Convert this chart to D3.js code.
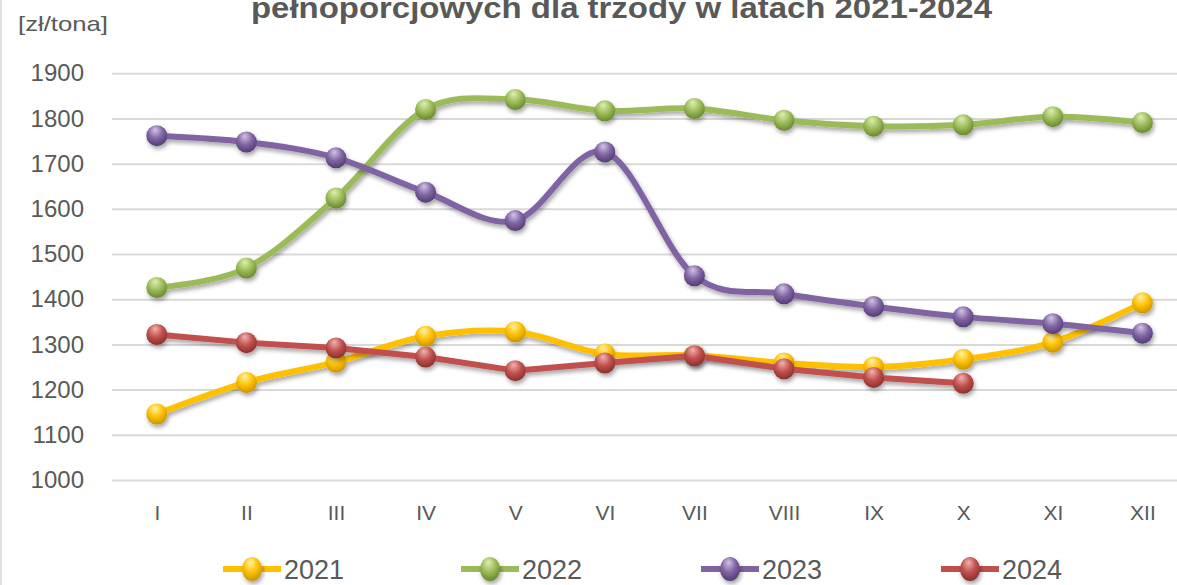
<!DOCTYPE html>
<html>
<head>
<meta charset="utf-8">
<script src="https://cdn.jsdelivr.net/npm/d3@7"></script>
<style>
  html, body { margin: 0; padding: 0; background: #fff; overflow: hidden; }
  text { font-family: "Liberation Sans", Arial, sans-serif; }
</style>
</head>
<body>
<script>
// chart size
var width = 1177;
var height = 585;

// data
var months = ['I','II','III','IV','V','VI','VII','VIII','IX','X','XI','XII'];
var yTicks = [1000,1100,1200,1300,1400,1500,1600,1700,1800,1900];
var years = ['2021','2022','2023','2024'];
var v2021 = [1146,1216,1261,1318,1328,1279,1276,1259,1250,1267,1305,1392];
var v2022 = [1426,1469,1624,1820,1842,1817,1822,1796,1783,1786,1804,1791];
var v2023 = [1762,1748,1713,1637,1574,1726,1452,1412,1384,1361,1346,1325];
var v2024 = [1322,1304,1292,1272,1242,1259,1275,1246,1227,1214];

var seriesList = [
  {name: '2021', values: v2021, color: '#FFC000', light: '#FFF4A8', dark: '#C99500', smooth: true},
  {name: '2022', values: v2022, color: '#9BBB59', light: '#DDF0B0', dark: '#6A8830', smooth: true},
  {name: '2023', values: v2023, color: '#8064A2', light: '#D2C4E6', dark: '#533D75', smooth: true},
  {name: '2024', values: v2024, color: '#C0504D', light: '#F2B2AF', dark: '#8A302E', smooth: false}
];

var svg = d3.select('body').append('svg').attr('width', width).attr('height', height);
var defs = svg.append('defs');

// soft shadow like in the office chart
var shadow = defs.append('filter').attr('id','shadow')
  .attr('x','-20%').attr('y','-20%').attr('width','140%').attr('height','160%');
shadow.append('feDropShadow')
  .attr('dx', 1.5).attr('dy', 3).attr('stdDeviation', 2)
  .attr('flood-color', '#000').attr('flood-opacity', 0.35);

// sphere gradients for markers
seriesList.forEach(function(s){
  var g = defs.append('radialGradient').attr('id', 'ball' + s.name)
    .attr('cx','45%').attr('cy','35%').attr('r','65%').attr('fx','42%').attr('fy','22%');
  g.append('stop').attr('offset','0%').attr('stop-color', s.light);
  g.append('stop').attr('offset','55%').attr('stop-color', s.color);
  g.append('stop').attr('offset','100%').attr('stop-color', s.dark);
});

var x = d3.scalePoint().domain(months).range([156.8, 1142.4]);
var y = d3.scaleLinear().domain([1000, 1900]).range([480, 73.3]);

// left border of chart area
svg.append('line').attr('x1',1).attr('x2',1).attr('y1',0).attr('y2',height)
  .attr('stroke','#d9d9d9').attr('stroke-width',1.5);

// gridlines + y axis labels
var yAxis = d3.axisLeft(y).tickValues(yTicks).tickFormat(d3.format('d'))
  .tickSize(-(1190 - 112)).tickPadding(28);
var gy = svg.append('g').attr('transform','translate(112,0)').call(yAxis);
gy.select('.domain').remove();
gy.selectAll('.tick line').attr('stroke','#D9D9D9').attr('stroke-width',2);
gy.selectAll('.tick text').attr('fill','#595959').style('font-size','24px');

// x labels
var xAxis = d3.axisBottom(x).tickSize(0).tickPadding(0);
var gx = svg.append('g').attr('transform','translate(0,500)').call(xAxis);
gx.select('.domain').remove();
gx.selectAll('.tick text').attr('fill','#595959').style('font-size','21px').attr('dy','0.95em');

// unit label
svg.append('text').attr('x', 18).attr('y', 31).text('[zł/tona]')
  .attr('fill','#595959').style('font-size','21px')
  .attr('textLength', 90).attr('lengthAdjust','spacingAndGlyphs');

// title (cut at top of picture, as in the source)
svg.append('text').attr('x', 251).attr('y', 18)
  .text('pełnoporcjowych dla trzody w latach 2021-2024')
  .attr('fill','#595959').style('font-size','30px').style('font-weight','bold')
  .attr('textLength', 741).attr('lengthAdjust','spacingAndGlyphs');

// series
seriesList.forEach(function(s){
  var line = d3.line()
    .x(function(d, i){ return x(months[i]); })
    .y(function(d){ return y(d); })
    .curve(s.smooth ? d3.curveCatmullRom.alpha(0) : d3.curveLinear);

  var g = svg.append('g').attr('class','series').attr('filter','url(#shadow)');
  g.append('path').datum(s.values).attr('d', line)
    .attr('fill','none').attr('stroke', s.color).attr('stroke-width', 6)
    .attr('stroke-linejoin','round').attr('stroke-linecap','round');

  g.selectAll('circle').data(s.values).enter().append('circle')
    .attr('cx', function(d, i){ return x(months[i]); })
    .attr('cy', function(d){ return y(d); })
    .attr('r', 10.5)
    .attr('fill', 'url(#ball' + s.name + ')');
});

// legend
var legendX = [223, 461, 701, 941];
var lg = svg.append('g').selectAll('g').data(seriesList).enter().append('g')
  .attr('transform', function(d, i){ return 'translate(' + legendX[i] + ',569)'; });
lg.append('line').attr('x1',0).attr('x2',58).attr('y1',0).attr('y2',0)
  .attr('stroke', function(d){ return d.color; }).attr('stroke-width', 6);
lg.append('ellipse').attr('cx',29).attr('cy',0).attr('rx',10).attr('ry',12)
  .attr('fill', function(d){ return 'url(#ball' + d.name + ')'; })
  .attr('filter','url(#shadow)');
lg.append('text').attr('x', 61).attr('y', 10).text(function(d){ return d.name; })
  .attr('fill','#595959').style('font-size','27px');
</script>
</body>
</html>
